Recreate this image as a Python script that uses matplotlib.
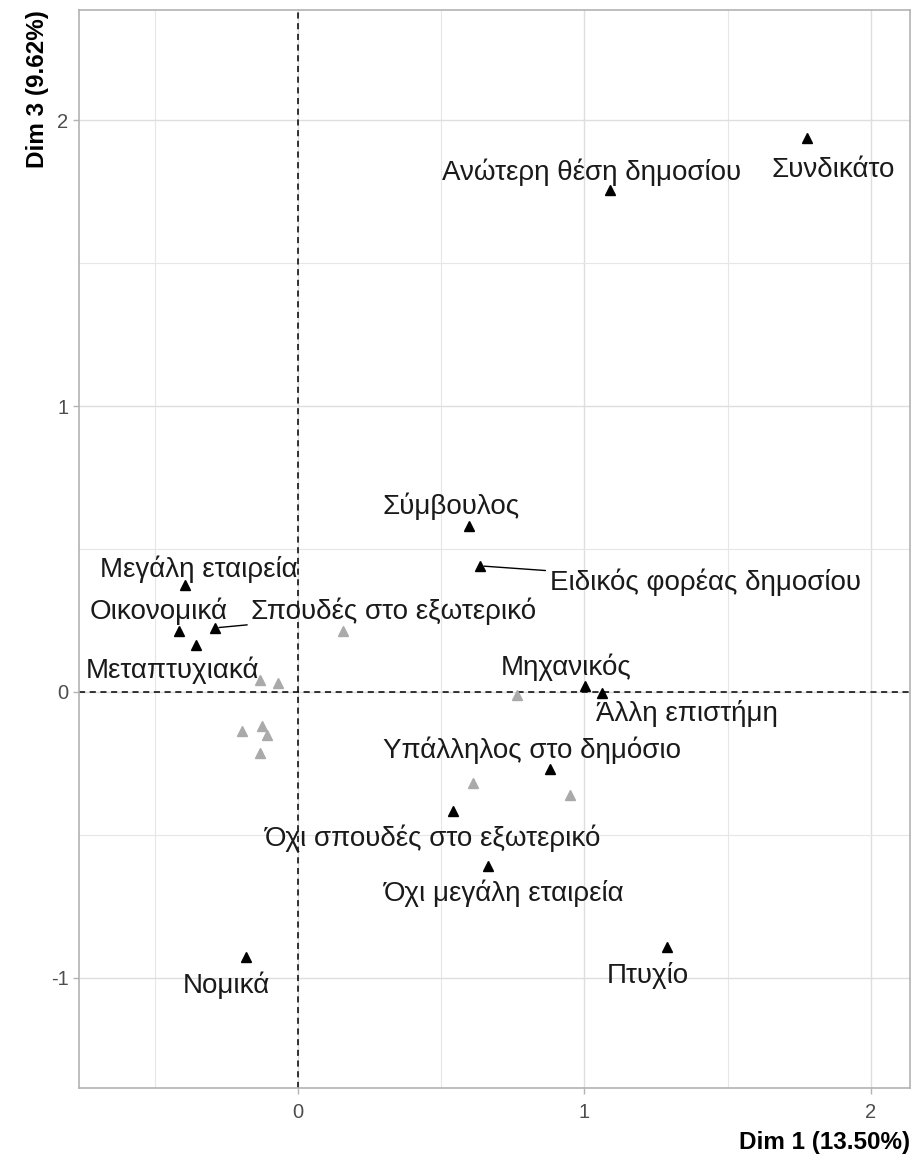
import matplotlib
matplotlib.use("Agg")
import matplotlib.pyplot as plt
from matplotlib.ticker import MultipleLocator

plt.rcParams['font.family'] = ['Liberation Sans', 'DejaVu Sans']
plt.rcParams['axes.unicode_minus'] = False

# Κατηγορίες με ετικέτα (Dim 1, Dim 3)
labels = ['Συνδικάτο', 'Ανώτερη θέση δημοσίου', 'Σύμβουλος', 'Ειδικός φορέας δημοσίου',
          'Μεγάλη εταιρεία', 'Οικονομικά', 'Σπουδές στο εξωτερικό', 'Μεταπτυχιακά',
          'Μηχανικός', 'Άλλη επιστήμη', 'Υπάλληλος στο δημόσιο', 'Όχι σπουδές στο εξωτερικό',
          'Όχι μεγάλη εταιρεία', 'Νομικά', 'Πτυχίο']
dim1 = [1.777, 1.089, 0.597, 0.635, -0.394, -0.415, -0.290, -0.356,
        1.002, 1.061, 0.880, 0.541, 0.663, -0.181, 1.288]
dim3 = [1.937, 1.755, 0.580, 0.441, 0.374, 0.213, 0.224, 0.164,
        0.021, -0.003, -0.269, -0.416, -0.608, -0.927, -0.892]

# Κατηγορίες χωρίς ετικέτα (γκρι)
grey_dim1 = [-0.070, -0.133, 0.157, -0.195, -0.126, -0.108, -0.133, 0.764, 0.611, 0.949]
grey_dim3 = [0.031, 0.042, 0.213, -0.136, -0.119, -0.150, -0.213, -0.010, -0.318, -0.360]

# θέσεις ετικετών (κέντρο κειμένου)
lab_x = [1.867, 1.026, 0.534, 1.421, -0.345, -0.485, 0.335, -0.436,
         0.935, 1.358, 0.817, 0.471, 0.719, -0.248, 1.222]
lab_y = [1.825, 1.818, 0.650, 0.385, 0.430, 0.283, 0.283, 0.077,
         0.087, -0.077, -0.203, -0.510, -0.703, -1.024, -0.990]
with_segment = ['Ειδικός φορέας δημοσίου', 'Σπουδές στο εξωτερικό']

fig = plt.figure(figsize=(9.13, 11.63), dpi=100)
ax = fig.add_axes([0.0865, 0.0645, 0.9102, 0.9269])

ax.set_xlim(-0.764, 2.136)
ax.set_ylim(-1.385, 2.385)
ax.xaxis.set_major_locator(MultipleLocator(1))
ax.yaxis.set_major_locator(MultipleLocator(1))
ax.xaxis.set_minor_locator(MultipleLocator(0.5))
ax.yaxis.set_minor_locator(MultipleLocator(0.5))
ax.grid(which='major', color='#DEDEDE', linewidth=1.0)
ax.grid(which='minor', color='#E6E6E6', linewidth=0.8)
ax.set_axisbelow(True)
for s in ax.spines.values():
    s.set_color('#B3B3B3')
    s.set_linewidth(1.2)
ax.tick_params(which='major', color='#B3B3B3', length=4, width=1,
               labelcolor='#4D4D4D', labelsize=14.5)
ax.tick_params(axis='x', which='major', pad=7)
ax.tick_params(which='minor', length=0)

ax.axhline(0, color='black', linestyle=(0, (4, 3)), linewidth=1.1, zorder=2)
ax.axvline(0, color='black', linestyle=(0, (4, 3)), linewidth=1.1, zorder=2)

ax.plot(grey_dim1, grey_dim3, '^', color='#AAAAAA', markersize=6.5, linestyle='none', zorder=3)
ax.plot(dim1, dim3, '^', color='black', markersize=6.5, linestyle='none', zorder=4)

for name, px, py, tx, ty in zip(labels, dim1, dim3, lab_x, lab_y):
    arrow = None
    if name in with_segment:
        arrow = dict(arrowstyle='-', color='black', linewidth=1, shrinkA=1, shrinkB=3)
    ax.annotate(name, xy=(px, py), xytext=(tx, ty), ha='center', va='center',
                fontsize=20, color='#1A1A1A', arrowprops=arrow, zorder=5)

ax.set_xlabel('Dim 1 (13.50%)', fontsize=17.5, fontweight='bold', loc='right', labelpad=6)
ax.set_ylabel('Dim 3 (9.62%)', fontsize=17.5, fontweight='bold', loc='top', labelpad=1)

fig.savefig('out.png', dpi=100)
